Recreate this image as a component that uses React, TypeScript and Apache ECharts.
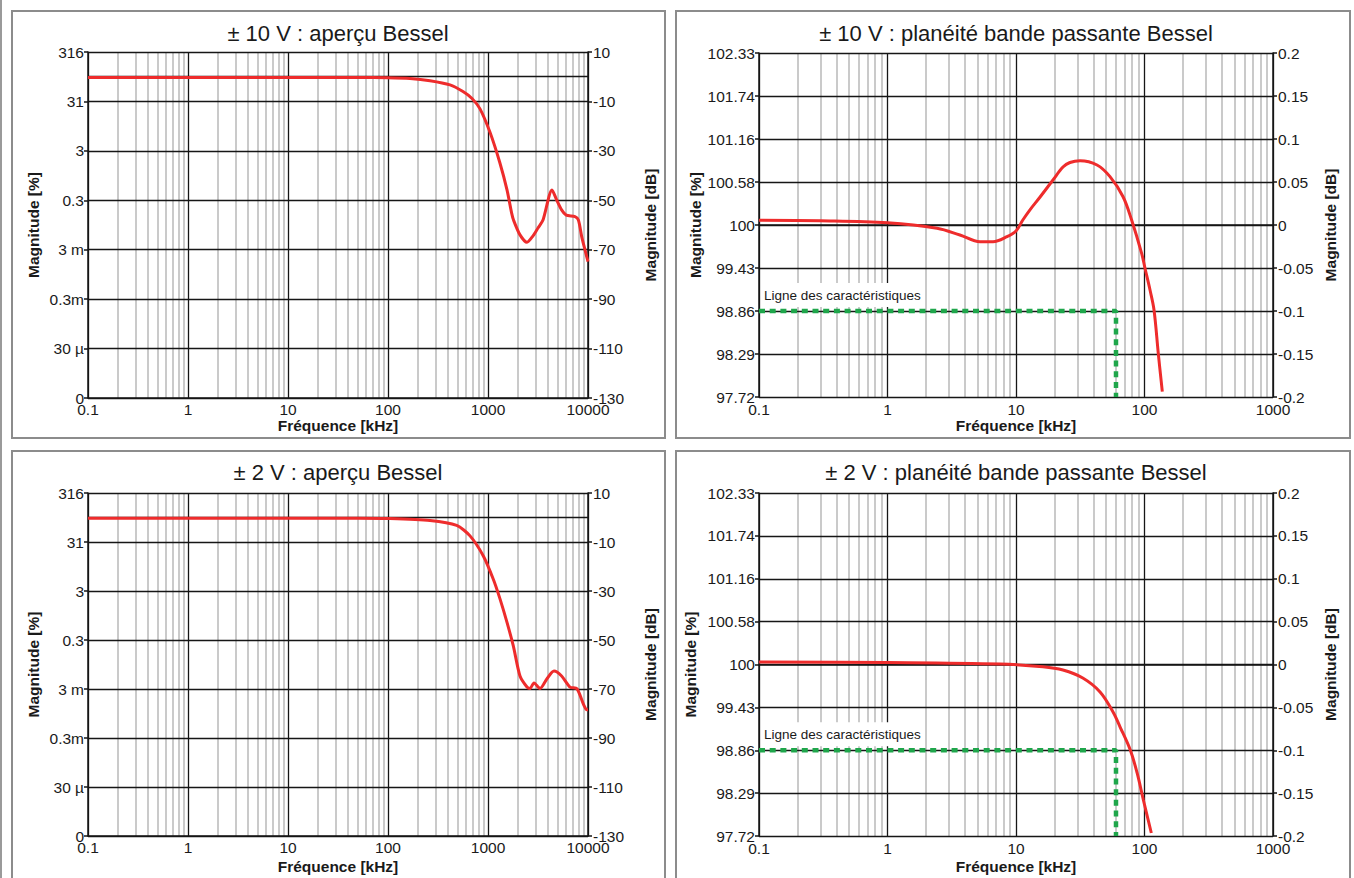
import React, { useEffect, useRef } from "react";
import * as echarts from "echarts";

const FONT = '"Liberation Sans", Arial, Helvetica, sans-serif';

// ---------- data ----------
// ±10 V overview (frequency kHz, magnitude dB)
const ov10Freq = [0.1, 1, 10, 50, 100, 166, 263, 417, 562, 692, 832, 1047, 1318, 1549, 1726, 1800, 2089, 2455, 2818, 3162, 3548, 4365, 4864, 5445, 6053, 7413, 8017, 8650, 9333, 10000];
const ov10Db = [-0.3, -0.3, -0.3, -0.3, -0.4, -0.7, -1.6, -3.3, -6.0, -8.8, -13.0, -22.5, -35, -45.8, -55.3, -58, -64, -67, -64.4, -61.2, -58, -45.8, -49.9, -53.9, -56, -56.6, -58, -64.7, -70.1, -74.8];

// ±2 V overview
const ov2Freq = [0.1, 1, 10, 50, 100, 263, 486, 661, 898, 1130, 1318, 1549, 1791, 2089, 2455, 2630, 2884, 3311, 3890, 4571, 5445, 6607, 7762, 8995, 9727, 10000];
const ov2Db = [-0.3, -0.3, -0.3, -0.3, -0.4, -1.2, -3.2, -7.5, -15.7, -25.2, -33.2, -42.8, -52.4, -64.7, -69.2, -69.8, -67.5, -69.8, -65.8, -62.7, -64.7, -69.2, -69.9, -76.2, -78.5, -78.5];

// ±10 V flatness
const fl10Freq = [0.1, 0.3, 1, 2.43, 3.66, 5.25, 6.62, 8.51, 10, 11.3, 12.8, 15.4, 19.4, 23.2, 26.3, 31.5, 42.7, 53.9, 68.1, 79.4, 95, 100.9, 110.4, 118.6, 128, 137.6];
const fl10Db = [0.0055, 0.005, 0.0027, -0.0038, -0.0116, -0.0194, -0.0194, -0.0136, -0.007, 0.0058, 0.0174, 0.0326, 0.0523, 0.0674, 0.0727, 0.0748, 0.0698, 0.0562, 0.0329, 0.0058, -0.0329, -0.0503, -0.0756, -0.0988, -0.1492, -0.1938];

// ±2 V flatness
const fl2Freq = [0.1, 1, 7.51, 16.2, 23.2, 33.1, 45.1, 56.9, 64.6, 77.5, 87.6, 98, 113];
const fl2Db = [0.0029, 0.0023, 0.0006, -0.0026, -0.0064, -0.0157, -0.032, -0.0554, -0.0729, -0.0997, -0.1265, -0.158, -0.1965];

// characteristic line (flatness charts)
const charFreq = [0.1, 60, 60];
const charDb = [-0.1, -0.1, -0.2];

// tick labels
const ovPctLabels = ["316", "31", "3", "0.3", "3 m", "0.3m", "30 µ", "0"];
const flPctLabels = ["102.33", "101.74", "101.16", "100.58", "100", "99.43", "98.86", "98.29", "97.72"];
const OV_DB_MIN = -130;
const OV_DB_MAX = 10;
const FL_DB_MIN = -0.2;
const FL_DB_MAX = 0.2;

const titles = [
  "± 10 V : aperçu Bessel",
  "± 10 V : planéité bande passante Bessel",
  "± 2 V : aperçu Bessel",
  "± 2 V : planéité bande passante Bessel",
];
const minorMult = [2, 3, 4, 5, 6, 7, 8, 9];
const charLabel = "Ligne des caractéristiques";

// ---------- layout ----------
const grids = [
  { left: 88, top: 52, width: 500, height: 346, kind: "ov", xMax: 10000, titleY: 33, xGap: 18, lGap: 47, rGap: 54 },
  { left: 759, top: 53, width: 514, height: 344, kind: "fl", xMax: 1000, titleY: 33, xGap: 20, lGap: 45, rGap: 49 },
  { left: 88, top: 493, width: 500, height: 343, kind: "ov", xMax: 10000, titleY: 472, xGap: 22, lGap: 47, rGap: 54 },
  { left: 759, top: 493, width: 514, height: 343, kind: "fl", xMax: 1000, titleY: 472, xGap: 22, lGap: 61, rGap: 49 },
];
const panels = [
  { x: 12, y: 11, w: 653, h: 427 },
  { x: 676, y: 11, w: 674, h: 427 },
  { x: 12, y: 451, w: 653, h: 440 },
  { x: 676, y: 451, w: 674, h: 440 },
];

const BLACK = "#161616";
const TEXT = "#1a1a1a";
const RED = "#ee2c2c";
const GREEN = "#1fa64b";
const TICK_FS = 15.5;
const NAME_FS = 15.5;

function minorValues(xMax: number) {
  const out: number[] = [];
  for (let d = 0.1; d < xMax * 0.99; d *= 10) {
    for (const m of minorMult) out.push(Number((m * d).toPrecision(6)));
  }
  return out;
}

function xLabel(v: number) {
  return v < 1 ? String(Number(v.toPrecision(1))) : String(Math.round(v));
}

function buildOption() {
  const xAxis: any[] = [];
  const yAxis: any[] = [];
  const series: any[] = [];
  const gridOpts: any[] = [];
  const graphic: any[] = [];

  const lineData = [
    [ov10Freq, ov10Db],
    [fl10Freq, fl10Db],
    [ov2Freq, ov2Db],
    [fl2Freq, fl2Db],
  ];

  grids.forEach((g, i) => {
    const ov = g.kind === "ov";
    const off = ov ? -OV_DB_MIN : 0; // ov axis shifted so ticks start at 0
    gridOpts.push({ left: g.left, top: g.top, width: g.width, height: g.height, containLabel: false });
    const nameStyle = { fontFamily: FONT, fontSize: NAME_FS, fontWeight: "bold", color: TEXT };
    xAxis.push({
      type: "log",
      logBase: 10,
      gridIndex: i,
      min: 0.1,
      max: g.xMax,
      z: 3,
      axisLine: { show: true, lineStyle: { color: BLACK, width: 1.5 } },
      axisTick: { show: false },
      axisLabel: { formatter: xLabel, margin: ov ? 3 : 4, fontSize: TICK_FS, color: TEXT, fontFamily: FONT },
      splitLine: { show: true, lineStyle: { color: BLACK, width: 1.3 } },
      name: "Fréquence [kHz]",
      nameLocation: "middle",
      nameGap: g.xGap,
      nameTextStyle: nameStyle,
    });
    const min = ov ? OV_DB_MIN + off : FL_DB_MIN;
    const max = ov ? OV_DB_MAX + off : FL_DB_MAX;
    const interval = ov ? 20 : 0.05;
    const common = {
      type: "value",
      gridIndex: i,
      min,
      max,
      interval,
      z: 3,
      axisLine: { show: true, lineStyle: { color: BLACK, width: 1.5 } },
      axisTick: { show: true, length: 4, lineStyle: { color: BLACK, width: 1.5 } },
    };
    yAxis.push({
      ...common,
      position: "left",
      axisLabel: {
        margin: 4,
        fontSize: TICK_FS,
        color: TEXT,
        fontFamily: FONT,
        formatter: (v: number) =>
          ov ? ovPctLabels[Math.round((max - v) / interval)] : flPctLabels[Math.round((FL_DB_MAX - v) / interval)],
      },
      splitLine: { show: true, lineStyle: { color: BLACK, width: 1.3 } },
      name: "Magnitude [%]",
      nameLocation: "middle",
      nameGap: g.lGap,
      nameTextStyle: nameStyle,
    });
    yAxis.push({
      ...common,
      position: "right",
      axisLabel: {
        margin: 5,
        fontSize: TICK_FS,
        color: TEXT,
        fontFamily: FONT,
        formatter: (v: number) => (ov ? String(Math.round(v - off)) : String(Number(v.toFixed(2)))),
      },
      splitLine: { show: false },
      name: "Magnitude [dB]",
      nameLocation: "middle",
      nameRotate: 90,
      nameGap: g.rGap,
      nameTextStyle: nameStyle,
    });

    // minor vertical grid lines
    series.push({
      type: "line",
      xAxisIndex: i,
      yAxisIndex: 2 * i,
      data: [],
      silent: true,
      z: 1,
      markLine: {
        silent: true,
        z: 1,
        symbol: ["none", "none"],
        label: { show: false },
        lineStyle: { color: "#bdbdbd", width: 1.6, type: "solid" },
        emphasis: { disabled: true },
        data: minorValues(g.xMax).map((v) => ({ xAxis: v })),
      },
    });

    const [fr, db] = lineData[i];
    const red: any = {
      type: "line",
      xAxisIndex: i,
      yAxisIndex: 2 * i,
      data: fr.map((f, k) => [f, db[k] + off]),
      smooth: ov ? 0.25 : 0.35,
      showSymbol: false,
      symbol: "none",
      silent: true,
      z: 6,
      lineStyle: { color: RED, width: 3 },
    };
    if (ov) {
      red.markLine = {
        silent: true,
        z: 4,
        symbol: ["none", "none"],
        label: { show: false },
        lineStyle: { color: BLACK, width: 1.3, type: "solid" },
        data: [{ yAxis: off }],
      };
    }
    if (!ov) {
      series.push({
        type: "line",
        xAxisIndex: i,
        yAxisIndex: 2 * i,
        data: charFreq.map((f, k) => [f, charDb[k]]),
        showSymbol: false,
        symbol: "none",
        silent: true,
        z: 5,
        lineStyle: { color: GREEN, width: 4.5, type: [6, 4.7] },
      });
      graphic.push({
        type: "text",
        z: 20,
        x: g.left + 3,
        y: g.top + 6 * (g.height / 8) - 28,
        style: {
          text: charLabel,
          font: `13.5px ${FONT}`,
          fill: TEXT,
          backgroundColor: "#ffffff",
          padding: [5, 4, 5, 2],
        },
      });
    }
    series.push(red);

    graphic.push({
      type: "text",
      z: 20,
      x: g.left + g.width / 2,
      y: g.titleY,
      style: {
        text: titles[i],
        font: `22px ${FONT}`,
        fill: TEXT,
        textAlign: "center",
        align: "center",
        textVerticalAlign: "middle",
        verticalAlign: "middle",
      },
    });
  });

  panels.forEach((p) => {
    graphic.push({
      type: "rect",
      z: 0,
      silent: true,
      shape: { x: p.x, y: p.y, width: p.w, height: p.h },
      style: { fill: "none", stroke: "#8c8c8c", lineWidth: 2 },
    });
  });
  graphic.push({
    type: "line",
    z: 0,
    silent: true,
    shape: { x1: 1, y1: 0, x2: 1, y2: 878 },
    style: { stroke: "#9a9a9a", lineWidth: 2 },
  });

  return {
    animation: false,
    backgroundColor: "#ffffff",
    textStyle: { fontFamily: FONT },
    grid: gridOpts,
    xAxis,
    yAxis,
    series,
    graphic,
  };
}

export default function App() {
  const ref = useRef<HTMLDivElement>(null);
  useEffect(() => {
    if (!ref.current) return;
    const chart = echarts.init(ref.current, undefined, { renderer: "svg" });
    chart.setOption(buildOption() as any);
    return () => chart.dispose();
  }, []);
  return (
    <div
      ref={ref}
      style={{ position: "fixed", left: 0, top: 0, width: 1354, height: 878, background: "#fff" }}
    />
  );
}
